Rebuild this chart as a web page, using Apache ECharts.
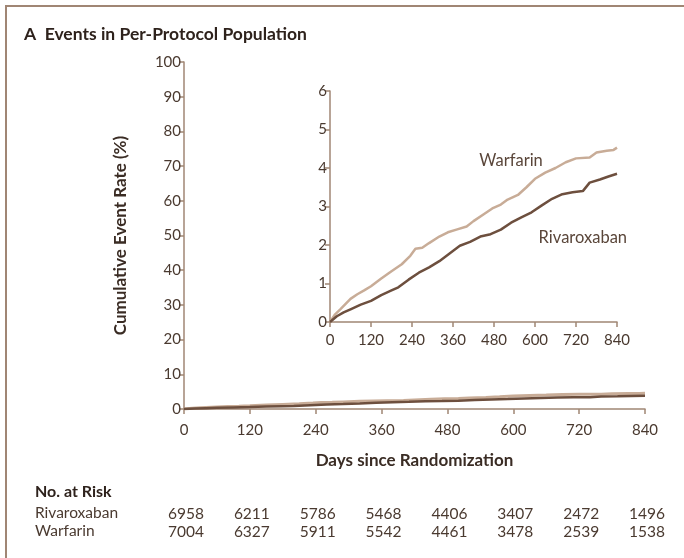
<!DOCTYPE html>
<html><head><meta charset="utf-8">
<script src="https://cdn.jsdelivr.net/npm/echarts@6/dist/echarts.min.js"></script>
<style>html,body{margin:0;padding:0;background:#fff}#c{width:684px;height:558px}</style>
</head><body><div id="c"></div>
<script>
var warfarinDays = [0,15,30,60,80,100,120,150,180,210,235,250,270,290,320,345,370,400,420,450,475,500,520,550,575,600,630,660,690,720,760,780,810,830,840];
var warfarinRate = [0,0.2,0.33,0.6,0.72,0.82,0.93,1.13,1.32,1.5,1.72,1.9,1.93,2.05,2.22,2.33,2.4,2.48,2.62,2.8,2.95,3.05,3.18,3.3,3.5,3.72,3.88,4.0,4.15,4.25,4.27,4.4,4.45,4.47,4.53];
var rivaDays = [0,20,40,60,90,120,150,180,200,230,260,290,320,350,380,410,440,470,500,530,560,590,620,650,680,710,740,760,790,815,840];
var rivaRate = [0,0.15,0.25,0.33,0.45,0.55,0.7,0.82,0.9,1.1,1.28,1.42,1.58,1.78,1.98,2.08,2.22,2.28,2.4,2.58,2.72,2.85,3.03,3.2,3.32,3.37,3.4,3.62,3.7,3.78,3.85];
var riskTimes = [0,120,240,360,480,600,720,840];
var riskRiva = [6958,6211,5786,5468,4406,3407,2472,1496];
var riskWarf = [7004,6327,5911,5542,4461,3478,2539,1538];

var FONT = 'Lato';
var AX = '#a08674';
var TXT = '#4a3a30';
var C_W = '#c8ac97';
var C_R = '#6d4f3e';

function pairs(x, y){ return x.map(function(d,i){ return [d, y[i]]; }); }

var chart = echarts.init(document.getElementById('c'));
function xAxisCfg(gi, name, margin){
  return {
    gridIndex: gi, type:'value', min:0, max:840, interval:120,
    name: name || '', nameLocation:'middle', nameGap: 43,
    nameTextStyle:{fontFamily:FONT, fontWeight:'bold', fontSize:17, color:'#3a2c24'},
    axisLine:{lineStyle:{color:AX, width:1.5}},
    axisTick:{lineStyle:{color:AX, width:1.5}, length:5},
    axisLabel:{fontFamily:FONT, fontSize:15, color:TXT, margin:margin},
    splitLine:{show:false}
  };
}
function yAxisCfg(gi, max, interval, name){
  return {
    gridIndex: gi, type:'value', min:0, max:max, interval:interval,
    name: name || '', nameLocation:'middle', nameGap: 55,
    nameTextStyle:{fontFamily:FONT, fontWeight:'bold', fontSize:17, color:'#3a2c24'},
    axisLine:{show:true, lineStyle:{color:AX, width:1.5}},
    axisTick:{show:true, lineStyle:{color:AX, width:1.5}, length:5},
    axisLabel:{fontFamily:FONT, fontSize:15, color:TXT, margin:3},
    splitLine:{show:false}
  };
}
var option = {
  animation:false,
  backgroundColor:'#ffffff',
  grid:[
    {left:184, top:62, right:39, bottom:149},
    {left:330, top:91, right:67, bottom:236}
  ],
  xAxis:[xAxisCfg(0,'Days since Randomization',14), xAxisCfg(1,'',11)],
  yAxis:[yAxisCfg(0,100,10,'Cumulative Event Rate (%)'), yAxisCfg(1,6,1)],
  series:[
    {type:'line', xAxisIndex:0, yAxisIndex:0, data:pairs(warfarinDays,warfarinRate), showSymbol:false, lineStyle:{color:C_W,width:3}},
    {type:'line', xAxisIndex:0, yAxisIndex:0, data:pairs(rivaDays,rivaRate), showSymbol:false, lineStyle:{color:C_R,width:2.5}},
    {type:'line', xAxisIndex:1, yAxisIndex:1, data:pairs(warfarinDays,warfarinRate), showSymbol:false, lineStyle:{color:C_W,width:2.5}},
    {type:'line', xAxisIndex:1, yAxisIndex:1, data:pairs(rivaDays,rivaRate), showSymbol:false, lineStyle:{color:C_R,width:2.5}}
  ]
};
chart.setOption(option);

var g = [
  {type:'line', shape:{x1:5,y1:6,x2:684,y2:6}, style:{stroke:AX, lineWidth:2}},
  {type:'line', shape:{x1:6,y1:6,x2:6,y2:558}, style:{stroke:AX, lineWidth:2}},
  {type:'text', left:24, top:25, style:{text:'A  Events in Per-Protocol Population', font:'bold 17.5px Lato', fill:'#2e221c'}},
  {type:'text', left:35, top:484, style:{text:'No. at Risk', font:'bold 16px Lato', fill:'#2e221c'}},
  {type:'text', left:35, top:505, style:{text:'Rivaroxaban', font:'15.5px Lato', fill:TXT}},
  {type:'text', left:35, top:523, style:{text:'Warfarin', font:'15.5px Lato', fill:TXT}}
];
var pW = chart.convertToPixel({xAxisIndex:1, yAxisIndex:1}, [530, 4.18]);
var pR = chart.convertToPixel({xAxisIndex:1, yAxisIndex:1}, [740, 2.2]);
g.push({type:'text', x:pW[0], y:pW[1], style:{text:'Warfarin', font:'16.5px Lato', fill:'#5a463a', textAlign:'center', textVerticalAlign:'middle'}});
g.push({type:'text', x:pR[0], y:pR[1], style:{text:'Rivaroxaban', font:'16.5px Lato', fill:'#5a463a', textAlign:'center', textVerticalAlign:'middle'}});
riskTimes.forEach(function(t,i){
  var px = chart.convertToPixel({xAxisIndex:0, yAxisIndex:0}, [t,0])[0] + 2;
  g.push({type:'text', x:px, y:514, style:{text:String(riskRiva[i]), font:'15.5px Lato', fill:TXT, textAlign:'center', textVerticalAlign:'middle'}});
  g.push({type:'text', x:px, y:532, style:{text:String(riskWarf[i]), font:'15.5px Lato', fill:TXT, textAlign:'center', textVerticalAlign:'middle'}});
});
chart.setOption({graphic:g});
</script></body></html>
